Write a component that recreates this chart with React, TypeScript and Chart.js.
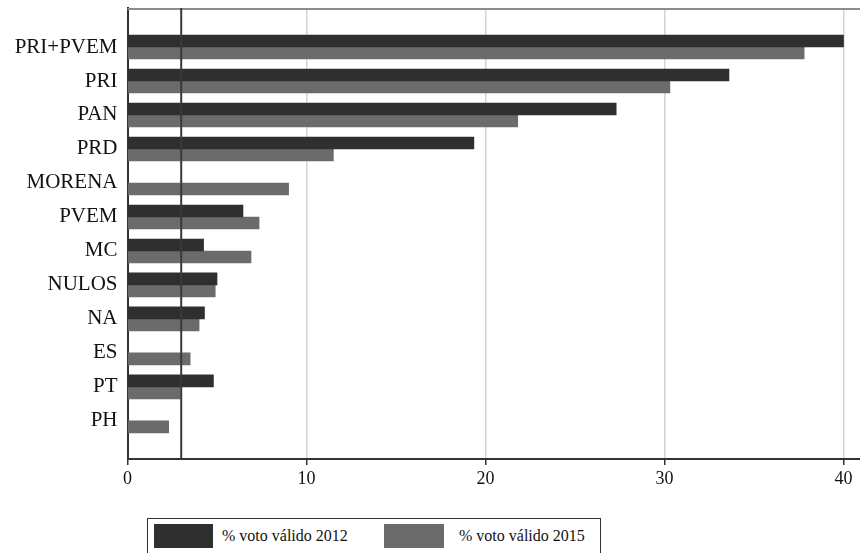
import React, { useEffect, useRef } from "react";
import { Chart, registerables } from "chart.js";

Chart.register(...registerables);

const categories = ["PRI+PVEM", "PRI", "PAN", "PRD", "MORENA", "PVEM", "MC", "NULOS", "NA", "ES", "PT", "PH"];
const vote2012: (number | null)[] = [40.0, 33.6, 27.3, 19.35, null, 6.45, 4.25, 5.0, 4.3, null, 4.8, null];
const vote2015: number[] = [37.8, 30.3, 21.8, 11.5, 9.0, 7.35, 6.9, 4.9, 4.0, 3.5, 2.95, 2.3];
const xTicks = [0, 10, 20, 30, 40];
const threshold = 3;
const seriesLabels = ["% voto válido 2012", "% voto válido 2015"];
const seriesColors = ["#2f2f2f", "#6b6b6b"];

const FONT = "'Liberation Serif', 'Times New Roman', serif";

const frameAndThreshold = {
  id: "frameAndThreshold",
  afterDraw(chart: any) {
    const { left, right, top, bottom } = chart.chartArea;
    const ctx = chart.ctx;
    ctx.save();
    ctx.strokeStyle = "#8c8c8c";
    ctx.lineWidth = 2;
    ctx.beginPath();
    ctx.moveTo(left, top + 1);
    ctx.lineTo(right, top + 1);
    ctx.stroke();
    const x = chart.scales.x.getPixelForValue(threshold);
    ctx.strokeStyle = "#3a3a3a";
    ctx.beginPath();
    ctx.moveTo(x, top);
    ctx.lineTo(x, bottom);
    ctx.stroke();
    ctx.restore();
  },
};

const zeroPad = (scale: any) => {
  scale.paddingTop = 0;
  scale.paddingBottom = 0;
  scale.paddingLeft = 0;
  scale.paddingRight = 0;
};

export default function App() {
  const ref = useRef<HTMLCanvasElement | null>(null);

  useEffect(() => {
    if (!ref.current) return;
    const toPoints = (arr: (number | null)[]) => arr.map((v, i) => ({ x: v, y: i }));
    const chart = new Chart(ref.current, {
      type: "bar",
      data: {
        datasets: [
          {
            label: seriesLabels[0],
            data: toPoints(vote2012) as any,
            backgroundColor: seriesColors[0],
            barThickness: 12,
          },
          {
            label: seriesLabels[1],
            data: toPoints(vote2015) as any,
            backgroundColor: seriesColors[1],
            barThickness: 12,
          },
        ],
      },
      options: {
        indexAxis: "y",
        animation: false,
        responsive: false,
        maintainAspectRatio: false,
        layout: { padding: { top: 8, left: 0, right: 0, bottom: 0 } },
        plugins: {
          legend: { display: false },
          tooltip: { enabled: false },
        },
        scales: {
          x: {
            type: "linear",
            position: "bottom",
            min: 0,
            max: 40.92,
            afterBuildTicks: (scale: any) => {
              scale.ticks = xTicks.map((v) => ({ value: v }));
            },
            afterFit: (scale: any) => {
              scale.height = 94;
              zeroPad(scale);
            },
            ticks: {
              font: { family: FONT, size: 18 },
              color: "#111",
              padding: 3,
              maxRotation: 0,
            },
            grid: {
              color: (ctx: any) => (ctx.tick && ctx.tick.value === 0 ? "rgba(0,0,0,0)" : "#d4d4d4"),
              lineWidth: 1.5,
              tickColor: "#333",
              tickLength: 6,
            },
            border: { display: true, color: "#333", width: 2 },
          },
          y: {
            type: "linear",
            reverse: true,
            offset: false,
            min: -1.147,
            max: 12.12,
            afterBuildTicks: (scale: any) => {
              scale.ticks = categories.map((_, i) => ({ value: i }));
            },
            afterFit: (scale: any) => {
              scale.width = 127.5;
              zeroPad(scale);
            },
            ticks: {
              font: { family: FONT, size: 21 },
              color: "#111",
              padding: 10,
              callback: (v: any) => categories[v as number] ?? "",
            },
            grid: { display: false, drawTicks: false, offset: false },
            border: { display: true, color: "#333", width: 2 },
          },
        },
      },
      plugins: [frameAndThreshold],
    });
    return () => chart.destroy();
  }, []);

  const legendText: React.CSSProperties = {
    position: "absolute",
    top: 6,
    fontFamily: FONT,
    fontSize: 16,
    color: "#111",
    lineHeight: "22px",
    whiteSpace: "nowrap",
  };

  return (
    <div style={{ position: "absolute", left: 0, top: 0, width: 860, height: 553, overflow: "hidden", background: "#fff" }}>
      <canvas ref={ref} width={860} height={553} style={{ position: "absolute", left: 0, top: 0, width: 860, height: 553 }} />
      <div
        style={{
          position: "absolute",
          left: 147,
          top: 518,
          width: 452,
          height: 50,
          border: "1.5px solid #333",
          background: "#fff",
        }}
      >
        <div style={{ position: "absolute", left: 6, top: 5, width: 59, height: 24, background: seriesColors[0] }} />
        <div style={{ ...legendText, left: 74 }}>{seriesLabels[0]}</div>
        <div style={{ position: "absolute", left: 236, top: 5, width: 60, height: 24, background: seriesColors[1] }} />
        <div style={{ ...legendText, left: 311 }}>{seriesLabels[1]}</div>
      </div>
    </div>
  );
}
